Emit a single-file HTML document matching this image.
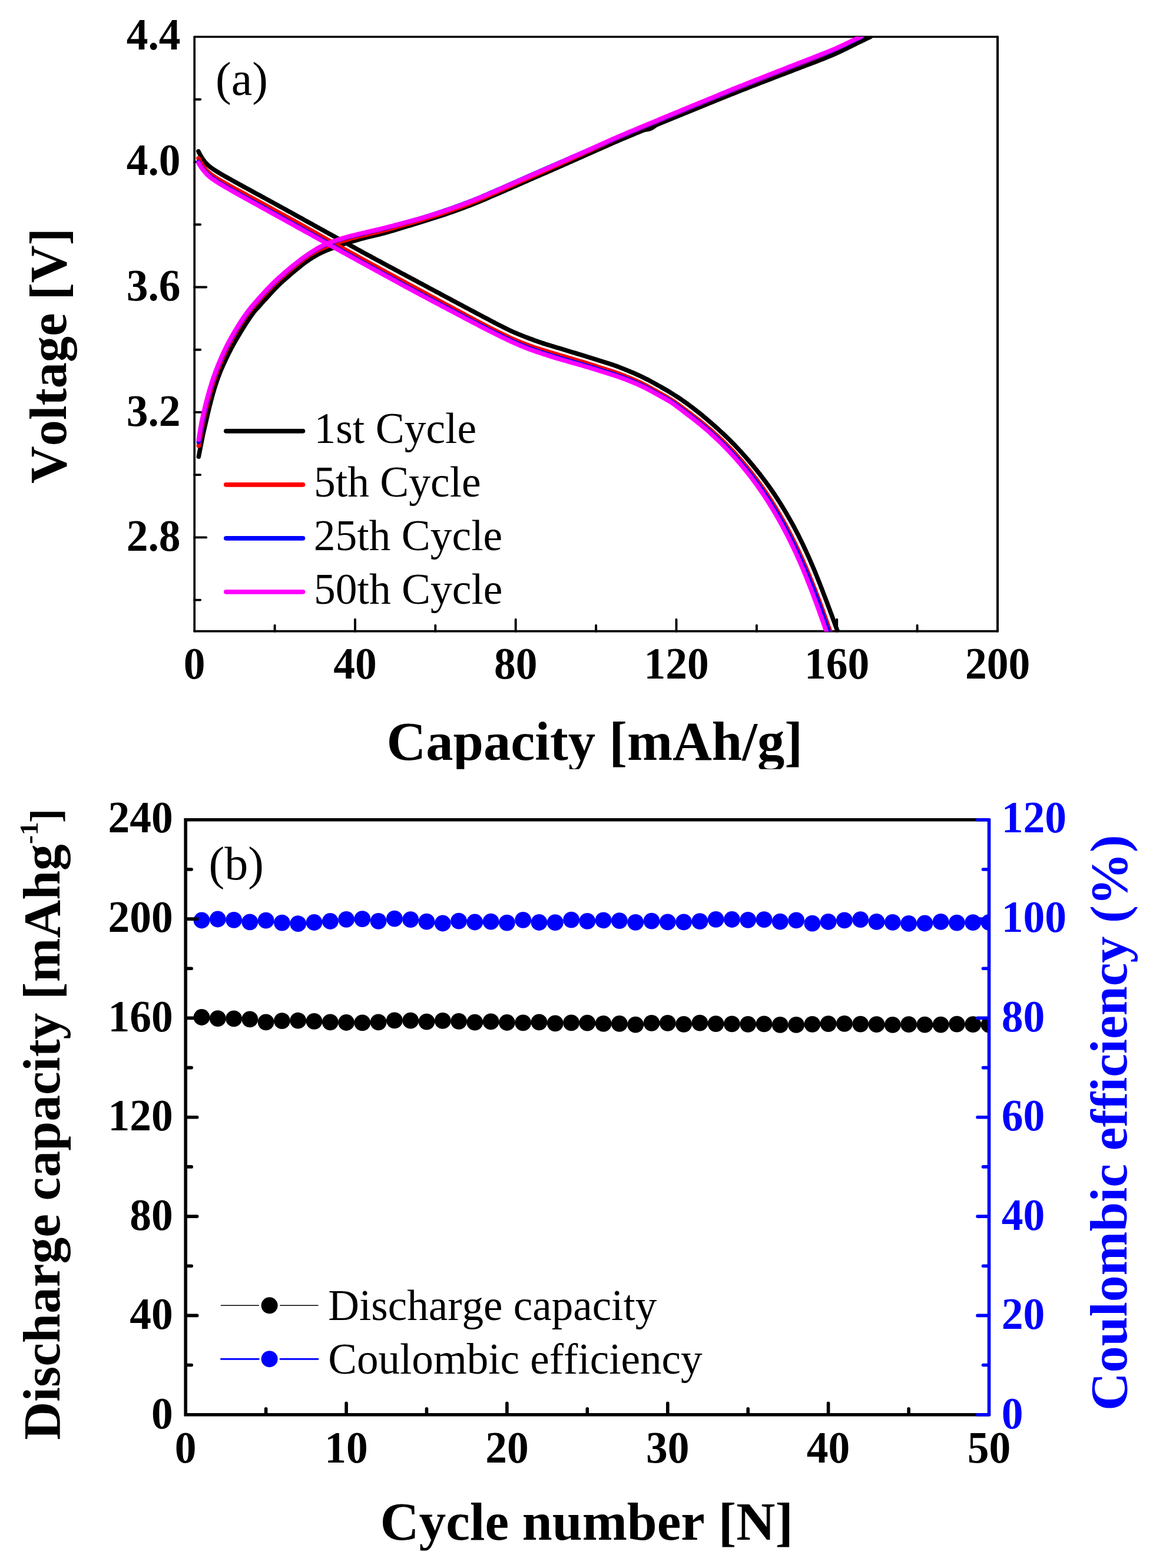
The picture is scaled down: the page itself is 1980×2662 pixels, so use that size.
<!DOCTYPE html>
<html lang="en"><head><meta charset="utf-8"><title>Charge-discharge profiles and cycling performance</title>
<style>html,body{margin:0;padding:0;background:#fff}body{width:1980px;height:2662px;overflow:hidden}svg{display:block}text{font-family:"Liberation Serif", serif;font-variant-ligatures:none;font-kerning:none}.b{font-weight:bold}.t{font-weight:bold;font-size:73.5px}</style></head><body>
<svg width="1980" height="2662" viewBox="0 0 1980 2662">
<defs><clipPath id="ca"><rect x="330.2" y="62.2" width="1363.8" height="1010.0"/></clipPath><clipPath id="cb"><rect x="315.2" y="1391.8" width="1364.3" height="1009.9"/></clipPath><clipPath id="cxa"><rect x="0" y="0" width="1980" height="1305.8"/></clipPath><clipPath id="cxb"><rect x="0" y="0" width="1980" height="2632.5"/></clipPath></defs>
<rect width="1980" height="2662" fill="#fff"/>
<g id="plot-a">
<g fill="none" stroke="#000" stroke-linecap="round">
<path stroke-width="3.4" d="M330.2,62.55H1694.0"/>
<path stroke-width="3.8" d="M330.2,1071.60H1694.0"/>
<path stroke-width="3.7" d="M330.2,62.6V1071.7"/>
<path stroke-width="4" d="M1694.0,62.6V1071.7"/>
<path stroke-width="3.9" d="M330.2,1018.6h10.0M330.2,912.4h20.0M330.2,806.1h10.0M330.2,699.9h20.0M330.2,593.7h10.0M330.2,487.5h20.0M330.2,381.3h10.0M330.2,275.0h20.0M330.2,168.8h10.0M466.6,1071.7v-10.0M603.0,1071.7v-20.0M739.3,1071.7v-10.0M875.7,1071.7v-20.0M1012.1,1071.7v-10.0M1148.5,1071.7v-20.0M1284.9,1071.7v-10.0M1421.2,1071.7v-20.0M1557.6,1071.7v-10.0"/>
</g>
<g clip-path="url(#ca)" fill="none" stroke-width="7.6" stroke-linecap="round" stroke-linejoin="round">
<path stroke="#000" d="M337.3,775.2 340.0,761.4 342.4,749.2 344.3,739.5 345.7,733.1 346.6,729.0 347.4,725.8 348.0,723.1 348.7,720.3 349.4,717.1 350.2,713.9 350.9,710.6 351.7,707.4 352.4,704.1 353.2,700.9 354.0,697.7 354.7,694.5 355.5,691.2 356.3,688.0 357.2,684.8 358.0,681.6 358.8,678.4 359.7,675.2 360.5,672.0 361.4,668.8 362.3,665.6 363.3,662.4 364.2,659.2 365.2,656.1 366.2,652.9 367.3,649.7 368.3,646.6 369.5,643.5 370.6,640.3 371.8,637.2 373.0,634.1 374.2,630.9 375.5,627.8 376.8,624.8 378.1,621.7 379.5,618.6 380.9,615.5 382.4,612.5 383.8,609.4 385.3,606.4 386.7,603.4 388.2,600.4 389.7,597.4 391.3,594.4 392.8,591.4 394.4,588.4 396.0,585.4 397.7,582.5 399.3,579.6 401.0,576.7 402.7,573.8 404.4,570.9 406.1,568.0 407.9,565.1 409.6,562.2 411.4,559.4 413.1,556.6 414.9,553.8 416.6,550.9 418.4,548.1 420.2,545.4 422.1,542.6 424.0,539.8 426.0,536.9 428.0,534.1 429.9,531.5 431.8,529.0 433.6,526.9 435.3,525.0 437.1,523.1 438.9,521.1 440.9,518.9 443.0,516.5 445.1,514.1 447.0,511.9 448.9,509.8 450.8,507.8 452.6,505.9 454.4,503.9 456.3,501.9 458.2,499.8 460.0,497.8 461.9,495.7 463.8,493.6 465.7,491.6 467.6,489.5 469.6,487.5 471.6,485.5 473.6,483.5 475.7,481.6 477.8,479.6 479.9,477.7 482.0,475.8 484.2,473.9 486.4,471.9 488.6,470.0 490.8,468.1 493.0,466.2 495.2,464.3 497.5,462.4 499.9,460.4 502.3,458.4 504.8,456.3 507.4,454.2 510.1,452.1 512.7,449.9 515.5,447.8 518.2,445.8 520.9,443.8 523.6,441.9 526.4,440.1 529.2,438.3 532.0,436.6 534.8,434.9 537.6,433.3 540.5,431.7 543.4,430.2 546.3,428.7 549.3,427.3 552.3,426.0 555.4,424.7 558.5,423.5 561.6,422.2 564.7,421.1 567.8,419.9 570.9,418.8 574.1,417.6 577.2,416.5 580.4,415.5 583.6,414.4 586.8,413.4 590.0,412.4 593.1,411.4 596.4,410.4 599.6,409.4 602.8,408.5 606.0,407.6 609.2,406.6 612.5,405.7 615.7,404.9 618.9,404.0 622.1,403.1 625.4,402.3 628.6,401.6 631.8,400.8 635.0,400.0 638.3,399.3 641.5,398.5 644.7,397.7 647.9,396.9 651.1,396.0 654.4,395.2 657.6,394.3 660.8,393.3 664.0,392.4 667.2,391.5 670.4,390.5 673.6,389.5 676.8,388.6 680.0,387.6 683.2,386.6 686.4,385.7 689.6,384.7 692.8,383.7 696.0,382.8 699.2,381.8 702.4,380.8 705.6,379.9 708.8,378.9 712.0,377.9 715.2,376.9 718.4,375.9 721.5,374.9 724.7,373.9 727.9,372.9 731.0,371.9 734.2,370.9 737.4,369.9 740.5,368.9 743.7,367.9 746.8,366.9 750.0,365.9 753.1,364.8 756.2,363.8 759.4,362.7 762.5,361.6 765.6,360.5 768.8,359.5 771.9,358.3 775.0,357.2 778.2,356.1 781.3,355.0 784.4,353.8 787.5,352.7 790.6,351.5 793.7,350.3 796.8,349.1 799.9,347.9 803.0,346.7 806.0,345.5 809.1,344.3 812.2,343.0 815.2,341.7 818.3,340.5 821.3,339.2 824.4,337.9 827.4,336.6 830.4,335.3 833.5,333.9 836.5,332.6 839.6,331.3 842.6,330.0 845.6,328.7 848.7,327.4 851.7,326.1 854.8,324.7 857.8,323.4 860.8,322.1 863.9,320.8 866.9,319.5 869.9,318.1 873.0,316.8 876.0,315.5 879.0,314.1 882.0,312.8 885.1,311.5 888.1,310.1 891.1,308.8 894.2,307.5 897.2,306.1 900.2,304.8 903.3,303.5 906.3,302.1 909.3,300.8 912.4,299.5 915.4,298.2 918.4,296.8 921.5,295.5 924.5,294.2 927.5,292.9 930.6,291.5 933.6,290.2 936.6,288.9 939.7,287.5 942.7,286.2 945.7,284.9 948.8,283.5 951.8,282.2 954.8,280.9 957.9,279.5 960.9,278.2 963.9,276.9 966.9,275.5 970.0,274.2 973.0,272.8 976.0,271.5 979.0,270.2 982.1,268.8 985.1,267.5 988.1,266.2 991.1,264.8 994.2,263.5 997.2,262.1 1000.2,260.8 1003.2,259.5 1006.3,258.1 1009.3,256.8 1012.3,255.4 1015.3,254.1 1018.3,252.7 1021.4,251.4 1024.4,250.0 1027.4,248.7 1030.4,247.4 1033.5,246.0 1036.5,244.7 1039.5,243.3 1042.5,242.0 1045.6,240.7 1048.6,239.4 1051.7,238.1 1054.7,236.8 1057.7,235.5 1060.8,234.2 1063.8,232.9 1066.9,231.7 1069.9,230.4 1073.0,229.1 1076.1,227.9 1079.1,226.6 1082.2,225.3 1085.2,224.1 1088.3,222.8 1091.4,221.6 1094.4,220.3 1097.5,219.0 1100.5,217.8 1103.6,216.5 1106.6,215.3 1109.7,214.0 1112.8,212.7 1115.8,211.5 1118.9,210.2 1121.9,209.0 1125.0,207.7 1128.0,206.5 1131.1,205.2 1134.2,204.0 1137.2,202.7 1140.3,201.5 1143.3,200.2 1146.4,199.0 1149.5,197.7 1152.5,196.5 1155.6,195.2 1158.6,194.0 1161.7,192.7 1164.8,191.5 1167.8,190.2 1170.9,189.0 1174.0,187.7 1177.0,186.5 1180.1,185.2 1183.1,184.0 1186.2,182.7 1189.3,181.5 1192.3,180.2 1195.4,179.0 1198.5,177.7 1201.5,176.5 1204.6,175.2 1207.7,174.0 1210.7,172.7 1213.8,171.5 1216.8,170.3 1219.9,169.0 1223.0,167.8 1226.0,166.5 1229.1,165.3 1232.2,164.0 1235.2,162.8 1238.3,161.6 1241.4,160.3 1244.4,159.1 1247.5,157.9 1250.6,156.7 1253.6,155.5 1256.7,154.2 1259.8,153.0 1262.9,151.8 1266.0,150.6 1269.0,149.4 1272.1,148.2 1275.2,147.0 1278.3,145.8 1281.4,144.6 1284.4,143.4 1287.5,142.2 1290.6,141.0 1293.7,139.8 1296.8,138.6 1299.9,137.5 1302.9,136.3 1306.0,135.1 1309.1,133.9 1312.2,132.7 1315.3,131.5 1318.4,130.3 1321.4,129.1 1324.5,128.0 1327.6,126.8 1330.7,125.6 1333.8,124.4 1336.9,123.2 1339.9,122.1 1343.0,120.9 1346.1,119.7 1349.2,118.5 1352.3,117.3 1355.4,116.2 1358.5,115.0 1361.6,113.8 1364.6,112.6 1367.7,111.5 1370.8,110.3 1373.9,109.1 1377.0,108.0 1380.1,106.8 1383.2,105.6 1386.2,104.4 1389.3,103.2 1392.4,102.0 1395.4,100.8 1398.4,99.6 1401.3,98.4 1404.3,97.2 1407.3,96.0 1410.4,94.7 1413.5,93.4 1416.7,92.0 1420.0,90.5 1423.4,89.0 1426.8,87.5 1430.2,85.9 1433.6,84.2 1437.1,82.5 1440.8,80.7 1444.5,78.8 1448.4,76.8 1452.5,74.8 1456.8,72.7 1461.4,70.5 1466.4,68.1 1472.0,65.4 1478.0,62.5"/>
<path stroke="#000" d="M336.9,256.9 338.6,260.3 340.4,263.6 342.3,266.8 344.3,269.9 346.4,272.8 348.5,275.5 350.8,278.0 353.2,280.3 355.7,282.5 358.2,284.5 360.9,286.4 363.7,288.3 366.5,290.0 369.3,291.8 372.1,293.5 375.0,295.2 377.8,296.9 380.7,298.5 383.6,300.2 386.5,301.8 389.4,303.4 392.3,305.0 395.2,306.7 398.1,308.3 401.0,309.9 403.9,311.5 406.8,313.1 409.8,314.7 412.7,316.3 415.6,317.9 418.5,319.5 421.5,321.1 424.4,322.7 427.3,324.3 430.2,325.9 433.1,327.5 436.1,329.1 439.0,330.6 441.9,332.2 444.8,333.8 447.7,335.4 450.7,337.0 453.6,338.6 456.5,340.2 459.4,341.8 462.3,343.4 465.3,345.0 468.2,346.6 471.1,348.2 474.0,349.8 476.9,351.4 479.9,353.0 482.8,354.6 485.7,356.2 488.6,357.8 491.5,359.4 494.5,361.0 497.4,362.7 500.3,364.3 503.2,365.9 506.1,367.5 509.1,369.1 512.0,370.7 514.9,372.3 517.8,374.0 520.7,375.6 523.7,377.2 526.6,378.8 529.5,380.4 532.4,382.0 535.3,383.7 538.3,385.3 541.2,386.9 544.1,388.5 547.0,390.1 550.0,391.7 552.9,393.4 555.8,395.0 558.7,396.6 561.6,398.2 564.6,399.8 567.5,401.4 570.4,403.1 573.3,404.7 576.3,406.3 579.2,407.9 582.1,409.5 585.0,411.2 588.0,412.8 590.9,414.4 593.8,416.0 596.7,417.6 599.7,419.2 602.6,420.8 605.5,422.5 608.4,424.1 611.4,425.7 614.3,427.3 617.2,428.9 620.1,430.5 623.1,432.1 626.0,433.7 628.9,435.2 631.8,436.8 634.8,438.4 637.7,440.0 640.6,441.6 643.6,443.2 646.5,444.7 649.4,446.3 652.3,447.9 655.3,449.5 658.2,451.0 661.1,452.6 664.1,454.2 667.0,455.7 669.9,457.3 672.8,458.9 675.8,460.4 678.7,462.0 681.6,463.6 684.5,465.1 687.5,466.7 690.4,468.3 693.3,469.8 696.3,471.4 699.2,473.0 702.1,474.5 705.1,476.1 708.0,477.7 711.0,479.3 713.9,480.9 716.9,482.4 719.8,484.0 722.8,485.6 725.7,487.2 728.7,488.8 731.6,490.3 734.6,491.9 737.5,493.5 740.5,495.1 743.4,496.7 746.4,498.2 749.3,499.8 752.3,501.4 755.2,503.0 758.2,504.6 761.1,506.1 764.1,507.7 767.0,509.3 770.0,510.9 772.9,512.4 775.9,514.0 778.8,515.6 781.8,517.2 784.7,518.7 787.7,520.3 790.6,521.9 793.6,523.4 796.6,525.0 799.5,526.6 802.5,528.1 805.4,529.7 808.4,531.3 811.3,532.9 814.3,534.4 817.3,536.0 820.2,537.6 823.2,539.1 826.2,540.7 829.1,542.2 832.1,543.8 835.1,545.4 838.1,547.0 841.1,548.5 844.1,550.1 847.1,551.6 850.1,553.1 853.1,554.6 856.1,556.1 859.1,557.6 862.1,559.1 865.1,560.6 868.1,562.0 871.2,563.4 874.2,564.7 877.3,566.0 880.3,567.3 883.4,568.5 886.5,569.8 889.6,571.0 892.7,572.2 895.8,573.4 898.9,574.6 902.0,575.7 905.2,576.9 908.3,578.1 911.5,579.2 914.7,580.3 917.8,581.4 921.0,582.5 924.2,583.5 927.3,584.5 930.5,585.5 933.7,586.4 936.9,587.4 940.1,588.3 943.3,589.3 946.5,590.3 949.7,591.2 952.9,592.2 956.1,593.2 959.3,594.2 962.5,595.2 965.7,596.1 968.9,597.1 972.1,598.1 975.3,599.0 978.6,600.0 981.8,601.0 985.0,601.9 988.2,602.9 991.4,603.9 994.6,604.9 997.8,605.9 1001.0,606.8 1004.2,607.8 1007.4,608.8 1010.5,609.8 1013.7,610.8 1016.9,611.8 1020.1,612.8 1023.3,613.8 1026.5,614.8 1029.7,615.8 1032.9,616.8 1036.1,617.9 1039.3,618.9 1042.4,620.0 1045.6,621.1 1048.7,622.3 1051.9,623.5 1055.0,624.7 1058.2,626.0 1061.3,627.2 1064.4,628.5 1067.4,629.7 1070.5,631.0 1073.5,632.3 1076.6,633.6 1079.6,634.9 1082.7,636.3 1085.8,637.7 1088.9,639.2 1092.1,640.7 1095.4,642.3 1098.7,644.0 1102.0,645.7 1105.3,647.5 1108.7,649.3 1112.1,651.2 1115.5,653.1 1118.9,655.0 1122.3,656.9 1125.7,658.9 1129.2,660.9 1132.7,662.9 1136.3,665.0 1139.8,667.2 1143.3,669.4 1146.8,671.6 1150.2,673.8 1153.6,676.0 1157.0,678.3 1160.3,680.7 1163.7,683.0 1167.0,685.4 1170.2,687.8 1173.4,690.2 1176.6,692.6 1179.7,695.0 1182.8,697.4 1185.9,699.8 1189.0,702.3 1192.0,704.7 1194.9,707.2 1197.9,709.6 1200.8,712.1 1203.7,714.6 1206.5,717.0 1209.3,719.5 1212.1,721.9 1214.8,724.3 1217.6,726.8 1220.3,729.2 1222.9,731.7 1225.5,734.1 1228.2,736.5 1230.7,739.0 1233.3,741.4 1235.8,743.9 1238.3,746.3 1240.8,748.8 1243.2,751.3 1245.7,753.7 1248.1,756.2 1250.4,758.7 1252.8,761.2 1255.1,763.7 1257.4,766.1 1259.7,768.6 1261.9,771.2 1264.2,773.7 1266.4,776.2 1268.6,778.7 1270.8,781.3 1273.0,783.8 1275.1,786.4 1277.3,788.9 1279.4,791.5 1281.5,794.1 1283.6,796.7 1285.7,799.3 1287.8,801.9 1289.8,804.5 1291.9,807.1 1293.9,809.7 1295.9,812.4 1297.9,815.0 1299.9,817.7 1301.9,820.4 1303.8,823.1 1305.8,825.8 1307.7,828.5 1309.6,831.2 1311.5,834.0 1313.4,836.7 1315.3,839.5 1317.1,842.3 1319.0,845.1 1320.8,847.9 1322.6,850.7 1324.4,853.5 1326.1,856.3 1327.9,859.2 1329.6,862.0 1331.4,864.9 1333.1,867.7 1334.8,870.6 1336.4,873.5 1338.1,876.4 1339.8,879.3 1341.4,882.2 1343.1,885.1 1344.7,888.0 1346.3,890.9 1347.9,893.9 1349.5,896.8 1351.0,899.8 1352.6,902.7 1354.1,905.7 1355.6,908.6 1357.1,911.6 1358.6,914.6 1360.1,917.6 1361.5,920.6 1363.0,923.6 1364.4,926.6 1365.8,929.6 1367.2,932.6 1368.6,935.6 1370.0,938.7 1371.4,941.7 1372.7,944.7 1374.1,947.8 1375.4,950.8 1376.8,953.9 1378.1,957.0 1379.4,960.0 1380.7,963.1 1382.0,966.1 1383.3,969.2 1384.6,972.3 1385.8,975.4 1387.1,978.5 1388.3,981.6 1389.5,984.7 1390.8,987.8 1392.0,990.9 1393.2,994.0 1394.4,997.1 1395.6,1000.2 1396.8,1003.4 1398.0,1006.5 1399.2,1009.6 1400.4,1012.7 1401.6,1015.8 1402.8,1019.0 1404.0,1022.1 1405.2,1025.2 1406.3,1028.4 1407.5,1031.5 1408.7,1034.6 1409.8,1037.8 1411.0,1040.9 1412.2,1044.0 1413.3,1047.2 1414.5,1050.3 1415.6,1053.5 1416.8,1056.6 1417.9,1059.8 1419.1,1062.9 1420.2,1066.1 1421.4,1069.2 1422.5,1072.4 1423.7,1075.5 1424.9,1078.7 1426.0,1081.8 1427.2,1085.0"/>
<path fill="#000" stroke="none" d="M1092.5,221 L1093.9,224.3 1096.3,223.9 1103.6,222.7 1109.4,220.3 1113.3,217.4 1117.1,214.6 1117.1,210.8Z"/>
<path stroke="#f00" d="M337.3,756.7 338.6,749.5 339.7,743.0 340.6,737.6 341.4,733.3 342.0,729.8 342.6,726.6 343.2,723.5 343.8,720.4 344.5,717.1 345.2,713.9 345.9,710.6 346.6,707.4 347.3,704.1 348.0,700.9 348.8,697.7 349.5,694.5 350.3,691.2 351.1,688.0 351.9,684.8 352.7,681.6 353.6,678.4 354.4,675.2 355.3,672.0 356.2,668.8 357.1,665.6 358.0,662.4 359.0,659.2 359.9,656.1 360.9,652.9 361.9,649.7 363.0,646.6 364.0,643.5 365.1,640.3 366.2,637.2 367.3,634.1 368.4,630.9 369.6,627.8 370.8,624.8 372.0,621.7 373.3,618.6 374.6,615.5 375.9,612.5 377.2,609.4 378.5,606.4 379.9,603.4 381.3,600.4 382.7,597.4 384.1,594.4 385.5,591.4 387.0,588.4 388.5,585.4 390.1,582.5 391.6,579.6 393.2,576.7 394.8,573.8 396.4,570.9 398.1,568.0 399.7,565.1 401.4,562.2 403.1,559.4 404.8,556.6 406.5,553.8 408.3,550.9 410.1,548.1 411.9,545.4 413.7,542.6 415.6,539.8 417.5,537.1 419.4,534.3 421.4,531.7 423.3,529.1 425.3,526.5 427.3,524.1 429.3,521.7 431.4,519.3 433.5,516.8 435.7,514.4 437.9,511.9 440.0,509.5 442.2,507.2 444.3,504.8 446.4,502.5 448.6,500.2 450.7,497.9 452.9,495.6 455.1,493.3 457.3,491.0 459.5,488.7 461.7,486.4 463.9,484.2 466.2,481.9 468.4,479.7 470.7,477.6 473.1,475.4 475.4,473.3 477.8,471.1 480.2,469.0 482.6,466.9 485.0,464.8 487.4,462.8 489.8,460.7 492.3,458.7 494.8,456.6 497.3,454.6 499.8,452.6 502.3,450.5 504.9,448.5 507.5,446.4 510.2,444.3 512.8,442.2 515.5,440.2 518.2,438.2 520.9,436.3 523.6,434.4 526.4,432.6 529.2,430.9 532.0,429.2 534.8,427.6 537.6,426.1 540.5,424.6 543.4,423.3 546.3,422.0 549.3,420.7 552.3,419.4 555.4,418.2 558.5,417.0 561.6,415.8 564.7,414.7 567.8,413.6 570.9,412.5 574.1,411.4 577.2,410.4 580.4,409.4 583.6,408.4 586.8,407.5 590.0,406.5 593.1,405.6 596.4,404.8 599.6,403.9 602.8,403.0 606.0,402.2 609.2,401.4 612.5,400.6 615.7,399.8 618.9,399.0 622.1,398.2 625.4,397.4 628.6,396.7 631.8,395.9 635.0,395.2 638.3,394.4 641.5,393.7 644.7,392.9 647.9,392.1 651.1,391.3 654.4,390.5 657.6,389.6 660.8,388.8 664.0,387.9 667.2,387.0 670.4,386.1 673.6,385.2 676.8,384.3 680.0,383.4 683.2,382.5 686.4,381.6 689.6,380.7 692.8,379.8 696.0,378.9 699.2,378.0 702.4,377.1 705.6,376.1 708.8,375.2 712.0,374.3 715.2,373.3 718.4,372.4 721.5,371.4 724.7,370.4 727.9,369.5 731.0,368.5 734.2,367.5 737.4,366.4 740.5,365.4 743.7,364.4 746.8,363.4 750.0,362.3 753.1,361.3 756.2,360.2 759.4,359.1 762.5,358.0 765.6,357.0 768.8,355.9 771.9,354.8 775.0,353.6 778.2,352.5 781.3,351.4 784.4,350.2 787.5,349.1 790.6,347.9 793.7,346.7 796.8,345.6 799.9,344.4 803.0,343.1 806.0,341.9 809.1,340.6 812.2,339.4 815.2,338.1 818.3,336.8 821.3,335.5 824.4,334.2 827.4,332.9 830.4,331.5 833.5,330.2 836.5,328.9 839.6,327.5 842.6,326.2 845.6,324.9 848.7,323.5 851.7,322.2 854.8,320.9 857.8,319.5 860.8,318.2 863.9,316.9 866.9,315.5 869.9,314.2 873.0,312.8 876.0,311.5 879.0,310.1 882.0,308.8 885.1,307.4 888.1,306.1 891.1,304.7 894.2,303.4 897.2,302.0 900.2,300.7 903.3,299.4 906.3,298.0 909.3,296.7 912.4,295.3 915.4,294.0 918.4,292.7 921.5,291.3 924.5,290.0 927.5,288.6 930.6,287.3 933.6,285.9 936.6,284.6 939.7,283.3 942.7,281.9 945.7,280.6 948.8,279.2 951.8,277.8 954.8,276.5 957.9,275.1 960.9,273.8 963.9,272.4 966.9,271.1 970.0,269.7 973.0,268.3 976.0,267.0 979.0,265.6 982.1,264.3 985.1,262.9 988.1,261.6 991.1,260.2 994.2,258.8 997.2,257.5 1000.2,256.1 1003.2,254.8 1006.3,253.4 1009.3,252.0 1012.3,250.7 1015.3,249.3 1018.3,247.9 1021.4,246.5 1024.4,245.2 1027.4,243.8 1030.4,242.4 1033.5,241.1 1036.5,239.7 1039.5,238.4 1042.5,237.0 1045.6,235.7 1048.6,234.4 1051.7,233.1 1054.7,231.7 1057.7,230.4 1060.8,229.1 1063.8,227.8 1066.9,226.6 1069.9,225.3 1073.0,224.0 1076.1,222.7 1079.1,221.4 1082.2,220.2 1085.2,218.9 1088.3,217.6 1091.4,216.3 1094.4,215.1 1097.5,213.8 1100.5,212.5 1103.6,211.3 1106.6,210.0 1109.7,208.7 1112.8,207.4 1115.8,206.2 1118.9,204.9 1121.9,203.6 1125.0,202.4 1128.0,201.1 1131.1,199.8 1134.2,198.6 1137.2,197.3 1140.3,196.0 1143.3,194.8 1146.4,193.5 1149.5,192.2 1152.5,191.0 1155.6,189.7 1158.6,188.5 1161.7,187.2 1164.8,185.9 1167.8,184.7 1170.9,183.4 1174.0,182.1 1177.0,180.9 1180.1,179.6 1183.1,178.3 1186.2,177.1 1189.3,175.8 1192.3,174.5 1195.4,173.3 1198.5,172.0 1201.5,170.8 1204.6,169.5 1207.7,168.3 1210.7,167.0 1213.8,165.7 1216.8,164.5 1219.9,163.2 1223.0,162.0 1226.0,160.7 1229.1,159.5 1232.2,158.2 1235.2,157.0 1238.3,155.7 1241.4,154.5 1244.4,153.2 1247.5,152.0 1250.6,150.7 1253.6,149.5 1256.7,148.3 1259.8,147.1 1262.9,145.8 1266.0,144.6 1269.0,143.4 1272.1,142.2 1275.2,140.9 1278.3,139.7 1281.4,138.5 1284.4,137.3 1287.5,136.1 1290.6,134.9 1293.7,133.6 1296.8,132.4 1299.9,131.2 1302.9,130.0 1306.0,128.8 1309.1,127.6 1312.2,126.4 1315.3,125.2 1318.4,124.0 1321.4,122.7 1324.5,121.5 1327.6,120.3 1330.7,119.1 1333.8,117.9 1336.9,116.7 1339.9,115.5 1343.0,114.3 1346.1,113.1 1349.2,111.9 1352.3,110.7 1355.4,109.5 1358.5,108.3 1361.6,107.0 1364.6,105.8 1367.7,104.6 1370.8,103.4 1373.9,102.2 1377.0,100.9 1380.1,99.7 1383.2,98.5 1386.2,97.2 1389.3,96.0 1392.4,94.7 1395.5,93.4 1398.5,92.2 1401.6,90.9 1404.7,89.6 1407.7,88.3 1410.8,87.0 1413.9,85.6 1416.9,84.3 1420.0,82.9 1423.1,81.6 1426.1,80.1 1429.2,78.7 1432.2,77.3 1435.3,75.8 1438.3,74.3 1441.4,72.8 1444.5,71.3 1447.6,69.8 1450.7,68.3 1453.8,66.8 1457.0,65.3 1460.1,63.8 1463.3,62.2"/>
<path stroke="#f00" d="M337.0,268.7 338.6,272.0 340.4,275.2 342.3,278.2 344.3,281.2 346.4,284.0 348.5,286.7 350.8,289.2 353.2,291.6 355.7,293.8 358.2,295.9 360.9,297.9 363.7,299.7 366.5,301.6 369.3,303.4 372.1,305.1 375.0,306.8 377.8,308.5 380.7,310.1 383.6,311.8 386.5,313.4 389.4,315.0 392.3,316.6 395.2,318.2 398.1,319.9 401.0,321.5 403.9,323.0 406.8,324.6 409.8,326.2 412.7,327.8 415.6,329.4 418.5,330.9 421.5,332.5 424.4,334.1 427.3,335.7 430.2,337.3 433.1,338.9 436.1,340.5 439.0,342.0 441.9,343.6 444.8,345.2 447.7,346.8 450.7,348.4 453.6,350.0 456.5,351.6 459.4,353.2 462.3,354.8 465.3,356.4 468.2,358.0 471.1,359.6 474.0,361.2 476.9,362.8 479.9,364.3 482.8,365.9 485.7,367.5 488.6,369.1 491.5,370.7 494.5,372.3 497.4,373.9 500.3,375.5 503.2,377.2 506.1,378.8 509.1,380.4 512.0,382.1 514.9,383.7 517.8,385.3 520.7,387.0 523.7,388.6 526.6,390.3 529.5,391.9 532.4,393.6 535.3,395.2 538.3,396.9 541.2,398.5 544.1,400.2 547.0,401.8 550.0,403.5 552.9,405.1 555.8,406.8 558.7,408.4 561.6,410.1 564.6,411.7 567.5,413.3 570.4,415.0 573.3,416.6 576.3,418.2 579.2,419.9 582.1,421.5 585.0,423.2 588.0,424.8 590.9,426.4 593.8,428.1 596.7,429.7 599.7,431.3 602.6,432.9 605.5,434.6 608.4,436.2 611.4,437.8 614.3,439.4 617.2,441.0 620.1,442.6 623.1,444.2 626.0,445.8 628.9,447.4 631.8,449.0 634.8,450.6 637.7,452.2 640.6,453.8 643.6,455.4 646.5,457.0 649.4,458.6 652.3,460.2 655.3,461.8 658.2,463.4 661.1,465.0 664.1,466.6 667.0,468.1 669.9,469.7 672.8,471.3 675.8,472.9 678.7,474.5 681.6,476.1 684.5,477.6 687.5,479.2 690.4,480.8 693.3,482.4 696.3,483.9 699.2,485.5 702.1,487.1 705.1,488.7 708.0,490.3 711.0,491.9 713.9,493.4 716.9,495.0 719.8,496.6 722.8,498.2 725.7,499.8 728.7,501.4 731.6,503.0 734.6,504.6 737.5,506.2 740.5,507.8 743.4,509.4 746.4,511.0 749.3,512.6 752.3,514.2 755.2,515.8 758.2,517.3 761.1,518.9 764.1,520.5 767.0,522.1 770.0,523.7 772.9,525.3 775.9,526.8 778.8,528.4 781.8,530.0 784.7,531.6 787.7,533.2 790.6,534.8 793.6,536.4 796.6,538.0 799.5,539.5 802.5,541.1 805.4,542.7 808.4,544.3 811.3,545.8 814.3,547.4 817.3,549.0 820.2,550.5 823.2,552.0 826.2,553.6 829.1,555.1 832.1,556.7 835.1,558.2 838.1,559.7 841.1,561.2 844.1,562.7 847.1,564.2 850.1,565.7 853.1,567.1 856.1,568.6 859.1,570.0 862.1,571.5 865.1,572.9 868.1,574.3 871.2,575.6 874.2,576.9 877.3,578.2 880.3,579.5 883.4,580.8 886.5,582.0 889.6,583.3 892.7,584.5 895.8,585.6 898.9,586.8 902.0,587.9 905.2,589.0 908.3,590.1 911.5,591.1 914.7,592.1 917.8,593.2 921.0,594.2 924.2,595.2 927.3,596.2 930.5,597.1 933.7,598.1 936.9,599.0 940.1,600.0 943.3,600.9 946.5,601.9 949.7,602.9 952.9,603.8 956.1,604.7 959.3,605.7 962.5,606.6 965.7,607.6 968.9,608.5 972.1,609.5 975.3,610.4 978.6,611.4 981.8,612.3 985.0,613.3 988.2,614.2 991.4,615.2 994.6,616.2 997.8,617.2 1001.0,618.2 1004.2,619.2 1007.4,620.2 1010.5,621.2 1013.7,622.3 1016.9,623.3 1020.1,624.3 1023.3,625.3 1026.5,626.3 1029.7,627.3 1032.9,628.3 1036.1,629.3 1039.3,630.4 1042.4,631.5 1045.6,632.6 1048.7,633.7 1051.9,634.8 1055.0,636.0 1058.2,637.2 1061.3,638.4 1064.4,639.7 1067.5,640.9 1070.6,642.2 1073.7,643.5 1076.7,644.9 1079.8,646.2 1082.9,647.6 1085.9,649.0 1089.0,650.5 1092.1,652.0 1095.1,653.6 1098.2,655.2 1101.3,656.8 1104.3,658.5 1107.4,660.2 1110.4,662.0 1113.5,663.7 1116.5,665.4 1119.6,667.2 1122.6,668.9 1125.7,670.6 1128.8,672.3 1131.9,674.1 1134.9,675.9 1138.0,677.7 1141.0,679.6 1143.9,681.5 1146.8,683.5 1149.7,685.6 1152.6,687.6 1155.5,689.7 1158.3,691.8 1161.2,694.0 1164.0,696.1 1166.8,698.2 1169.6,700.3 1172.4,702.4 1175.2,704.5 1178.0,706.7 1180.8,708.8 1183.6,711.0 1186.3,713.1 1189.1,715.3 1191.8,717.5 1194.5,719.7 1197.2,721.9 1199.8,724.2 1202.5,726.4 1205.1,728.7 1207.7,730.9 1210.3,733.2 1212.9,735.5 1215.5,737.8 1218.0,740.1 1220.5,742.4 1223.0,744.8 1225.5,747.1 1228.0,749.5 1230.4,751.8 1232.9,754.2 1235.3,756.6 1237.7,759.0 1240.1,761.5 1242.4,763.9 1244.8,766.3 1247.1,768.8 1249.4,771.3 1251.6,773.7 1253.9,776.2 1256.1,778.7 1258.3,781.3 1260.5,783.8 1262.7,786.3 1264.8,788.9 1266.9,791.4 1269.0,794.0 1271.1,796.6 1273.2,799.2 1275.3,801.8 1277.3,804.4 1279.4,807.1 1281.4,809.7 1283.4,812.3 1285.4,815.0 1287.4,817.7 1289.3,820.4 1291.3,823.1 1293.2,825.8 1295.1,828.5 1297.0,831.2 1298.9,834.0 1300.8,836.7 1302.7,839.5 1304.5,842.3 1306.3,845.1 1308.2,847.9 1310.0,850.7 1311.7,853.5 1313.5,856.3 1315.3,859.2 1317.0,862.0 1318.7,864.9 1320.4,867.7 1322.1,870.6 1323.8,873.5 1325.5,876.4 1327.1,879.3 1328.8,882.2 1330.4,885.1 1332.0,888.0 1333.6,890.9 1335.2,893.9 1336.8,896.8 1338.3,899.8 1339.9,902.7 1341.4,905.7 1342.9,908.6 1344.5,911.6 1345.9,914.6 1347.4,917.6 1348.9,920.6 1350.4,923.6 1351.8,926.6 1353.2,929.6 1354.7,932.6 1356.1,935.6 1357.5,938.7 1358.9,941.7 1360.2,944.7 1361.6,947.8 1362.9,950.8 1364.3,953.9 1365.6,957.0 1366.9,960.0 1368.3,963.1 1369.6,966.1 1370.9,969.2 1372.2,972.3 1373.5,975.4 1374.7,978.5 1376.0,981.6 1377.3,984.7 1378.5,987.8 1379.8,990.9 1381.0,994.0 1382.3,997.1 1383.5,1000.2 1384.7,1003.4 1385.9,1006.5 1387.1,1009.6 1388.3,1012.7 1389.5,1015.8 1390.7,1019.0 1391.9,1022.1 1393.0,1025.2 1394.2,1028.4 1395.3,1031.5 1396.5,1034.6 1397.6,1037.8 1398.7,1040.9 1399.8,1044.0 1400.9,1047.2 1402.1,1050.3 1403.2,1053.5 1404.3,1056.6 1405.4,1059.8 1406.5,1062.9 1407.6,1066.1 1408.7,1069.2 1409.9,1072.4 1411.0,1075.5 1412.1,1078.7 1413.2,1081.8 1414.3,1085.0"/>
<path stroke="#00f" d="M337.3,750.1 338.1,745.5 338.8,741.1 339.6,737.0 340.2,733.4 340.8,730.0 341.4,726.8 342.0,723.6 342.6,720.4 343.3,717.1 343.9,713.9 344.6,710.6 345.3,707.4 346.0,704.1 346.7,700.9 347.4,697.7 348.1,694.5 348.9,691.2 349.7,688.0 350.4,684.8 351.2,681.6 352.0,678.4 352.9,675.2 353.7,672.0 354.6,668.8 355.4,665.6 356.3,662.4 357.3,659.2 358.2,656.1 359.2,652.9 360.2,649.7 361.2,646.6 362.3,643.5 363.3,640.3 364.4,637.2 365.6,634.1 366.7,630.9 367.9,627.8 369.1,624.8 370.3,621.7 371.5,618.6 372.8,615.5 374.1,612.5 375.5,609.4 376.8,606.4 378.1,603.4 379.5,600.4 380.9,597.4 382.3,594.4 383.8,591.4 385.2,588.4 386.8,585.4 388.3,582.5 389.9,579.6 391.5,576.7 393.1,573.8 394.7,570.9 396.4,568.0 398.0,565.1 399.7,562.2 401.4,559.4 403.2,556.6 404.9,553.8 406.6,550.9 408.4,548.1 410.2,545.4 412.0,542.6 413.8,539.9 415.7,537.1 417.5,534.4 419.5,531.7 421.4,529.1 423.4,526.5 425.4,523.9 427.5,521.4 429.6,518.9 431.7,516.3 433.9,513.9 436.0,511.4 438.2,508.9 440.4,506.5 442.6,504.0 444.8,501.6 447.0,499.2 449.2,496.8 451.5,494.4 453.7,492.1 456.0,489.7 458.3,487.3 460.6,485.0 462.9,482.7 465.2,480.4 467.6,478.1 469.9,475.9 472.3,473.6 474.7,471.4 477.2,469.2 479.6,467.0 482.1,464.8 484.5,462.6 487.0,460.5 489.5,458.3 492.1,456.2 494.6,454.1 497.2,452.0 499.7,449.9 502.3,447.9 504.9,445.8 507.6,443.8 510.2,441.8 512.8,439.8 515.5,437.8 518.2,435.9 520.9,434.0 523.6,432.1 526.4,430.2 529.2,428.4 532.0,426.7 534.8,424.9 537.6,423.3 540.5,421.6 543.4,420.0 546.3,418.5 549.3,417.1 552.3,415.7 555.4,414.5 558.5,413.2 561.6,412.1 564.7,410.9 567.8,409.8 570.9,408.7 574.1,407.7 577.2,406.7 580.4,405.7 583.6,404.7 586.8,403.8 590.0,402.9 593.1,402.0 596.4,401.2 599.6,400.3 602.8,399.5 606.0,398.8 609.2,398.0 612.5,397.2 615.7,396.5 618.9,395.7 622.1,394.9 625.4,394.1 628.6,393.4 631.8,392.6 635.0,391.9 638.3,391.1 641.5,390.4 644.7,389.6 647.9,388.8 651.1,388.0 654.4,387.2 657.6,386.4 660.8,385.5 664.0,384.7 667.2,383.8 670.4,382.9 673.6,382.0 676.8,381.2 680.0,380.3 683.2,379.4 686.4,378.5 689.6,377.6 692.8,376.8 696.0,375.9 699.2,375.0 702.4,374.1 705.6,373.2 708.8,372.3 712.0,371.4 715.2,370.4 718.4,369.5 721.5,368.5 724.7,367.6 727.9,366.6 731.0,365.6 734.2,364.6 737.4,363.5 740.5,362.5 743.7,361.5 746.8,360.4 750.0,359.4 753.1,358.3 756.2,357.2 759.4,356.2 762.5,355.1 765.6,354.0 768.8,352.9 771.9,351.8 775.0,350.7 778.2,349.5 781.3,348.4 784.4,347.3 787.5,346.1 790.6,344.9 793.7,343.8 796.8,342.6 799.9,341.4 803.0,340.2 806.0,338.9 809.1,337.7 812.2,336.4 815.2,335.2 818.3,333.9 821.3,332.6 824.4,331.3 827.4,330.0 830.4,328.6 833.5,327.3 836.5,326.0 839.6,324.7 842.6,323.3 845.6,322.0 848.7,320.7 851.7,319.4 854.8,318.1 857.8,316.7 860.8,315.4 863.9,314.1 866.9,312.7 869.9,311.4 873.0,310.1 876.0,308.7 879.0,307.4 882.0,306.0 885.1,304.7 888.1,303.4 891.1,302.0 894.2,300.7 897.2,299.3 900.2,298.0 903.3,296.7 906.3,295.4 909.3,294.0 912.4,292.7 915.4,291.4 918.4,290.1 921.5,288.8 924.5,287.4 927.5,286.1 930.6,284.8 933.6,283.5 936.6,282.1 939.7,280.8 942.7,279.5 945.7,278.2 948.8,276.8 951.8,275.5 954.8,274.2 957.9,272.9 960.9,271.6 963.9,270.3 966.9,268.9 970.0,267.6 973.0,266.3 976.0,265.0 979.0,263.7 982.1,262.4 985.1,261.1 988.1,259.8 991.1,258.5 994.2,257.2 997.2,255.8 1000.2,254.5 1003.2,253.2 1006.3,251.9 1009.3,250.6 1012.3,249.3 1015.3,248.0 1018.3,246.7 1021.4,245.4 1024.4,244.1 1027.4,242.8 1030.4,241.5 1033.5,240.2 1036.5,238.9 1039.5,237.5 1042.5,236.2 1045.6,234.9 1048.6,233.6 1051.7,232.3 1054.7,231.0 1057.7,229.7 1060.8,228.4 1063.8,227.1 1066.9,225.8 1069.9,224.6 1073.0,223.3 1076.1,222.0 1079.1,220.7 1082.2,219.5 1085.2,218.2 1088.3,216.9 1091.4,215.6 1094.4,214.4 1097.5,213.1 1100.5,211.8 1103.6,210.6 1106.6,209.3 1109.7,208.0 1112.8,206.7 1115.8,205.5 1118.9,204.2 1121.9,202.9 1125.0,201.7 1128.0,200.4 1131.1,199.1 1134.2,197.8 1137.2,196.6 1140.3,195.3 1143.3,194.0 1146.4,192.8 1149.5,191.5 1152.5,190.3 1155.6,189.0 1158.6,187.7 1161.7,186.5 1164.8,185.2 1167.8,183.9 1170.9,182.7 1174.0,181.4 1177.0,180.1 1180.1,178.9 1183.1,177.6 1186.2,176.3 1189.3,175.1 1192.3,173.8 1195.4,172.5 1198.5,171.3 1201.5,170.0 1204.6,168.8 1207.7,167.5 1210.7,166.2 1213.8,165.0 1216.8,163.7 1219.9,162.5 1223.0,161.2 1226.0,159.9 1229.1,158.7 1232.2,157.4 1235.2,156.2 1238.3,154.9 1241.4,153.7 1244.4,152.4 1247.5,151.2 1250.6,150.0 1253.6,148.7 1256.7,147.5 1259.8,146.3 1262.9,145.0 1266.0,143.8 1269.0,142.6 1272.1,141.4 1275.2,140.1 1278.3,138.9 1281.4,137.7 1284.4,136.5 1287.5,135.3 1290.6,134.1 1293.7,132.8 1296.8,131.6 1299.9,130.4 1302.9,129.2 1306.0,128.0 1309.1,126.8 1312.2,125.6 1315.3,124.3 1318.4,123.1 1321.4,121.9 1324.5,120.7 1327.6,119.5 1330.7,118.3 1333.8,117.1 1336.9,115.9 1339.9,114.7 1343.0,113.5 1346.1,112.2 1349.2,111.0 1352.3,109.8 1355.4,108.6 1358.5,107.4 1361.6,106.2 1364.6,105.0 1367.7,103.8 1370.8,102.6 1373.9,101.3 1377.0,100.1 1380.1,98.9 1383.2,97.7 1386.2,96.5 1389.3,95.2 1392.4,94.0 1395.5,92.8 1398.5,91.6 1401.6,90.4 1404.7,89.1 1407.7,87.9 1410.8,86.7 1413.9,85.4 1416.9,84.1 1420.0,82.8 1423.1,81.4 1426.1,80.0 1429.2,78.6 1432.2,77.2 1435.3,75.7 1438.3,74.3 1441.4,72.8 1444.5,71.3 1447.6,69.8 1450.7,68.3 1453.8,66.8 1457.0,65.3 1460.3,63.8 1463.6,62.2"/>
<path stroke="#00f" d="M337.0,275.1 338.7,278.0 340.4,280.9 342.3,283.7 344.3,286.4 346.4,289.0 348.5,291.5 350.8,294.0 353.2,296.3 355.7,298.6 358.2,300.7 360.9,302.6 363.7,304.5 366.5,306.4 369.3,308.2 372.1,309.9 375.0,311.7 377.8,313.4 380.7,315.1 383.6,316.7 386.5,318.4 389.4,320.0 392.3,321.7 395.2,323.3 398.1,325.0 401.0,326.6 403.9,328.2 406.8,329.9 409.8,331.5 412.7,333.1 415.6,334.7 418.5,336.3 421.5,337.9 424.4,339.5 427.3,341.1 430.2,342.7 433.1,344.3 436.1,345.9 439.0,347.5 441.9,349.1 444.8,350.7 447.7,352.3 450.7,353.9 453.6,355.6 456.5,357.2 459.4,358.8 462.3,360.4 465.3,362.0 468.2,363.6 471.1,365.2 474.0,366.8 476.9,368.5 479.9,370.1 482.8,371.7 485.7,373.3 488.6,374.9 491.5,376.5 494.5,378.1 497.4,379.8 500.3,381.4 503.2,383.0 506.1,384.6 509.1,386.2 512.0,387.9 514.9,389.5 517.8,391.1 520.7,392.7 523.7,394.4 526.6,396.0 529.5,397.6 532.4,399.3 535.3,400.9 538.3,402.5 541.2,404.1 544.1,405.8 547.0,407.4 550.0,409.0 552.9,410.6 555.8,412.3 558.7,413.9 561.6,415.5 564.6,417.1 567.5,418.7 570.4,420.4 573.3,422.0 576.3,423.6 579.2,425.2 582.1,426.8 585.0,428.4 588.0,430.1 590.9,431.7 593.8,433.3 596.7,434.9 599.7,436.5 602.6,438.1 605.5,439.7 608.4,441.3 611.4,443.0 614.3,444.6 617.2,446.2 620.1,447.8 623.1,449.4 626.0,451.0 628.9,452.6 631.8,454.2 634.8,455.8 637.7,457.4 640.6,458.9 643.6,460.5 646.5,462.1 649.4,463.7 652.3,465.3 655.3,466.9 658.2,468.5 661.1,470.1 664.1,471.7 667.0,473.3 669.9,474.9 672.8,476.5 675.8,478.1 678.7,479.7 681.6,481.3 684.5,482.9 687.5,484.5 690.4,486.1 693.3,487.7 696.3,489.3 699.2,490.9 702.1,492.4 705.1,494.0 708.0,495.6 711.0,497.2 713.9,498.7 716.9,500.3 719.8,501.9 722.8,503.4 725.7,505.0 728.7,506.6 731.6,508.1 734.6,509.7 737.5,511.2 740.5,512.8 743.4,514.3 746.4,515.9 749.3,517.4 752.3,519.0 755.2,520.5 758.2,522.1 761.1,523.6 764.1,525.2 767.0,526.8 770.0,528.3 772.9,529.9 775.9,531.4 778.8,533.0 781.8,534.5 784.7,536.1 787.7,537.6 790.6,539.2 793.6,540.8 796.6,542.3 799.5,543.9 802.5,545.4 805.4,547.0 808.4,548.5 811.3,550.0 814.3,551.6 817.3,553.1 820.2,554.7 823.2,556.2 826.2,557.7 829.1,559.2 832.1,560.7 835.1,562.3 838.1,563.8 841.1,565.2 844.1,566.7 847.1,568.2 850.1,569.7 853.1,571.1 856.1,572.6 859.1,574.0 862.1,575.5 865.1,576.9 868.1,578.3 871.2,579.7 874.2,581.0 877.3,582.3 880.3,583.6 883.4,584.9 886.5,586.2 889.6,587.4 892.7,588.7 895.8,589.8 898.9,591.0 902.0,592.2 905.2,593.3 908.3,594.4 911.5,595.4 914.7,596.5 917.8,597.5 921.0,598.6 924.2,599.6 927.3,600.6 930.5,601.6 933.7,602.6 936.9,603.6 940.1,604.6 943.3,605.5 946.5,606.5 949.7,607.5 952.9,608.4 956.1,609.4 959.3,610.3 962.5,611.2 965.7,612.1 968.9,613.1 972.1,614.0 975.3,614.9 978.6,615.8 981.8,616.7 985.0,617.6 988.2,618.5 991.4,619.5 994.6,620.4 997.8,621.4 1001.0,622.4 1004.2,623.4 1007.4,624.4 1010.5,625.4 1013.7,626.5 1016.9,627.5 1020.1,628.4 1023.3,629.4 1026.5,630.4 1029.7,631.4 1032.9,632.3 1036.1,633.3 1039.3,634.4 1042.4,635.4 1045.6,636.5 1048.7,637.5 1051.9,638.7 1055.0,639.8 1058.2,641.0 1061.3,642.1 1064.4,643.3 1067.5,644.6 1070.6,645.8 1073.7,647.1 1076.8,648.4 1079.9,649.8 1082.9,651.1 1086.0,652.5 1089.0,653.9 1092.1,655.3 1095.1,656.8 1098.1,658.4 1101.1,660.0 1104.0,661.6 1107.0,663.2 1110.0,664.8 1112.9,666.5 1115.9,668.2 1118.8,669.8 1121.8,671.5 1124.8,673.1 1127.8,674.8 1130.7,676.4 1133.7,678.1 1136.6,679.8 1139.5,681.6 1142.3,683.5 1145.1,685.4 1147.9,687.4 1150.6,689.4 1153.4,691.4 1156.1,693.5 1158.8,695.6 1161.5,697.6 1164.2,699.7 1166.9,701.7 1169.7,703.8 1172.4,705.8 1175.1,707.9 1177.8,710.0 1180.5,712.0 1183.1,714.1 1185.8,716.2 1188.4,718.4 1191.1,720.5 1193.7,722.7 1196.3,724.8 1198.8,727.0 1201.4,729.2 1204.0,731.4 1206.5,733.7 1209.1,735.9 1211.6,738.2 1214.1,740.5 1216.6,742.7 1219.1,745.0 1221.5,747.4 1224.0,749.7 1226.4,752.0 1228.8,754.4 1231.2,756.8 1233.6,759.1 1236.0,761.5 1238.3,764.0 1240.7,766.4 1243.0,768.8 1245.3,771.3 1247.6,773.8 1249.8,776.2 1252.1,778.7 1254.3,781.3 1256.5,783.8 1258.7,786.3 1260.8,788.9 1263.0,791.4 1265.1,794.0 1267.3,796.6 1269.4,799.2 1271.5,801.8 1273.6,804.4 1275.6,807.0 1277.7,809.7 1279.7,812.3 1281.7,815.0 1283.7,817.7 1285.7,820.4 1287.7,823.1 1289.6,825.8 1291.6,828.5 1293.5,831.2 1295.4,834.0 1297.3,836.7 1299.2,839.5 1301.1,842.3 1302.9,845.1 1304.8,847.9 1306.6,850.7 1308.4,853.5 1310.2,856.3 1311.9,859.2 1313.7,862.0 1315.4,864.9 1317.2,867.7 1318.9,870.6 1320.6,873.5 1322.3,876.4 1324.0,879.3 1325.7,882.2 1327.4,885.1 1329.0,888.0 1330.6,890.9 1332.3,893.9 1333.9,896.8 1335.5,899.8 1337.0,902.7 1338.6,905.7 1340.1,908.6 1341.6,911.6 1343.1,914.6 1344.6,917.6 1346.1,920.6 1347.5,923.6 1349.0,926.6 1350.4,929.6 1351.8,932.6 1353.3,935.6 1354.7,938.7 1356.1,941.7 1357.4,944.7 1358.8,947.8 1360.2,950.8 1361.5,953.9 1362.8,957.0 1364.2,960.0 1365.5,963.1 1366.8,966.1 1368.1,969.2 1369.4,972.3 1370.7,975.4 1372.0,978.5 1373.4,981.6 1374.7,984.7 1375.9,987.8 1377.2,990.9 1378.5,994.0 1379.8,997.1 1381.0,1000.2 1382.3,1003.4 1383.5,1006.5 1384.7,1009.6 1385.9,1012.7 1387.1,1015.8 1388.3,1019.0 1389.4,1022.1 1390.6,1025.2 1391.7,1028.4 1392.9,1031.5 1394.0,1034.6 1395.1,1037.8 1396.2,1040.9 1397.3,1044.0 1398.4,1047.2 1399.5,1050.3 1400.6,1053.5 1401.7,1056.6 1402.8,1059.8 1403.9,1062.9 1405.0,1066.1 1406.2,1069.2 1407.3,1072.4 1408.4,1075.5 1409.5,1078.7 1410.6,1081.8 1411.7,1085.0"/>
<path stroke="#f0f" d="M337.3,746.5 337.8,743.2 338.3,740.0 338.9,736.7 339.4,733.4 340.0,730.2 340.5,726.9 341.1,723.6 341.7,720.4 342.3,717.1 343.0,713.9 343.7,710.6 344.4,707.4 345.1,704.1 345.8,700.9 346.5,697.7 347.3,694.5 348.1,691.2 348.8,688.0 349.6,684.8 350.5,681.6 351.3,678.4 352.1,675.2 353.0,672.0 353.9,668.8 354.8,665.6 355.7,662.4 356.6,659.2 357.6,656.1 358.6,652.9 359.6,649.7 360.6,646.6 361.6,643.5 362.7,640.3 363.8,637.2 364.9,634.1 366.0,630.9 367.2,627.8 368.4,624.8 369.6,621.7 370.8,618.6 372.1,615.5 373.4,612.5 374.7,609.4 376.0,606.4 377.4,603.4 378.7,600.4 380.1,597.4 381.5,594.4 383.0,591.4 384.4,588.4 385.9,585.4 387.5,582.5 389.0,579.6 390.6,576.7 392.2,573.8 393.8,570.9 395.4,568.0 397.1,565.1 398.8,562.2 400.5,559.4 402.2,556.6 403.9,553.8 405.7,550.9 407.5,548.1 409.3,545.4 411.1,542.6 412.9,539.9 414.8,537.1 416.7,534.4 418.7,531.7 420.6,529.1 422.6,526.4 424.7,523.8 426.7,521.2 428.9,518.7 431.0,516.2 433.2,513.7 435.4,511.2 437.6,508.7 439.8,506.2 442.0,503.7 444.2,501.3 446.4,498.8 448.7,496.4 450.9,494.0 453.2,491.6 455.5,489.2 457.8,486.8 460.1,484.4 462.5,482.1 464.8,479.8 467.2,477.5 469.6,475.2 472.0,472.9 474.5,470.7 476.9,468.5 479.4,466.3 481.9,464.1 484.4,461.9 486.9,459.8 489.5,457.6 492.0,455.5 494.6,453.4 497.2,451.3 499.7,449.3 502.3,447.2 504.9,445.2 507.6,443.1 510.2,441.1 512.8,439.1 515.5,437.2 518.2,435.2 520.9,433.3 523.6,431.5 526.4,429.6 529.2,427.8 532.0,426.0 534.8,424.3 537.6,422.6 540.5,420.9 543.4,419.3 546.3,417.8 549.3,416.3 552.3,415.0 555.4,413.7 558.5,412.5 561.6,411.3 564.7,410.2 567.8,409.1 570.9,408.0 574.1,406.9 577.2,405.9 580.4,404.9 583.6,404.0 586.8,403.1 590.0,402.2 593.1,401.3 596.4,400.5 599.6,399.7 602.8,398.9 606.0,398.1 609.2,397.3 612.5,396.6 615.7,395.8 618.9,395.1 622.1,394.3 625.4,393.5 628.6,392.8 631.8,392.0 635.0,391.3 638.3,390.5 641.5,389.8 644.7,389.0 647.9,388.2 651.1,387.4 654.4,386.6 657.6,385.8 660.8,385.0 664.0,384.2 667.2,383.4 670.4,382.5 673.6,381.7 676.8,380.8 680.0,380.0 683.2,379.2 686.4,378.3 689.6,377.4 692.8,376.6 696.0,375.7 699.2,374.9 702.4,374.0 705.6,373.1 708.8,372.2 712.0,371.3 715.2,370.4 718.4,369.5 721.5,368.5 724.7,367.6 727.9,366.6 731.0,365.7 734.2,364.7 737.4,363.7 740.5,362.7 743.7,361.6 746.8,360.6 750.0,359.6 753.1,358.5 756.2,357.5 759.4,356.4 762.5,355.3 765.6,354.3 768.8,353.2 771.9,352.1 775.0,351.0 778.2,349.9 781.3,348.7 784.4,347.6 787.5,346.5 790.6,345.3 793.7,344.1 796.8,342.9 799.9,341.7 803.0,340.5 806.0,339.3 809.1,338.1 812.2,336.8 815.2,335.5 818.3,334.2 821.3,332.9 824.4,331.6 827.4,330.3 830.4,329.0 833.5,327.7 836.5,326.4 839.6,325.0 842.6,323.7 845.6,322.4 848.7,321.1 851.7,319.8 854.8,318.4 857.8,317.1 860.8,315.8 863.9,314.5 866.9,313.1 869.9,311.8 873.0,310.4 876.0,309.1 879.0,307.8 882.0,306.4 885.1,305.1 888.1,303.7 891.1,302.4 894.2,301.1 897.2,299.7 900.2,298.4 903.3,297.1 906.3,295.7 909.3,294.4 912.4,293.1 915.4,291.8 918.4,290.4 921.5,289.1 924.5,287.8 927.5,286.5 930.6,285.1 933.6,283.8 936.6,282.5 939.7,281.1 942.7,279.8 945.7,278.5 948.8,277.1 951.8,275.8 954.8,274.4 957.9,273.1 960.9,271.7 963.9,270.4 966.9,269.1 970.0,267.7 973.0,266.4 976.0,265.0 979.0,263.7 982.1,262.3 985.1,261.0 988.1,259.6 991.1,258.3 994.2,256.9 997.2,255.6 1000.2,254.2 1003.2,252.9 1006.3,251.5 1009.3,250.1 1012.3,248.8 1015.3,247.4 1018.3,246.1 1021.4,244.7 1024.4,243.3 1027.4,242.0 1030.4,240.6 1033.5,239.3 1036.5,237.9 1039.5,236.6 1042.5,235.3 1045.6,233.9 1048.6,232.6 1051.7,231.3 1054.7,230.0 1057.7,228.7 1060.8,227.4 1063.8,226.1 1066.9,224.8 1069.9,223.5 1073.0,222.2 1076.1,221.0 1079.1,219.7 1082.2,218.4 1085.2,217.1 1088.3,215.9 1091.4,214.6 1094.4,213.3 1097.5,212.1 1100.5,210.8 1103.6,209.5 1106.6,208.2 1109.7,207.0 1112.8,205.7 1115.8,204.4 1118.9,203.1 1121.9,201.9 1125.0,200.6 1128.0,199.3 1131.1,198.0 1134.2,196.8 1137.2,195.5 1140.3,194.2 1143.3,193.0 1146.4,191.7 1149.5,190.4 1152.5,189.2 1155.6,187.9 1158.6,186.6 1161.7,185.4 1164.8,184.1 1167.8,182.8 1170.9,181.6 1174.0,180.3 1177.0,179.0 1180.1,177.8 1183.1,176.5 1186.2,175.3 1189.3,174.0 1192.3,172.7 1195.4,171.5 1198.5,170.2 1201.5,169.0 1204.6,167.7 1207.7,166.4 1210.7,165.2 1213.8,163.9 1216.8,162.7 1219.9,161.4 1223.0,160.1 1226.0,158.9 1229.1,157.6 1232.2,156.4 1235.2,155.1 1238.3,153.8 1241.4,152.6 1244.4,151.4 1247.5,150.1 1250.6,148.9 1253.6,147.6 1256.7,146.4 1259.8,145.2 1262.9,143.9 1266.0,142.7 1269.0,141.5 1272.1,140.3 1275.2,139.1 1278.3,137.9 1281.4,136.6 1284.4,135.4 1287.5,134.2 1290.6,133.0 1293.7,131.8 1296.8,130.6 1299.9,129.4 1302.9,128.1 1306.0,126.9 1309.1,125.7 1312.2,124.5 1315.3,123.3 1318.4,122.1 1321.4,120.9 1324.5,119.7 1327.6,118.5 1330.7,117.3 1333.8,116.0 1336.9,114.8 1339.9,113.6 1343.0,112.4 1346.1,111.2 1349.2,110.0 1352.3,108.8 1355.4,107.6 1358.5,106.4 1361.6,105.2 1364.6,104.0 1367.7,102.8 1370.8,101.6 1373.9,100.4 1377.0,99.2 1380.1,98.0 1383.2,96.8 1386.2,95.6 1389.3,94.4 1392.4,93.1 1395.5,91.9 1398.6,90.7 1401.6,89.5 1404.7,88.2 1407.8,87.0 1410.9,85.8 1413.9,84.5 1417.0,83.2 1420.0,81.9 1423.0,80.6 1426.1,79.2 1429.1,77.8 1432.1,76.4 1435.1,75.0 1438.0,73.5 1441.0,72.1 1444.0,70.7 1447.0,69.2 1450.0,67.8 1453.0,66.4 1456.0,65.0 1459.0,63.6 1462.0,62.2"/>
<path stroke="#f0f" d="M337.0,276.6 338.7,279.5 340.4,282.3 342.3,285.1 344.3,287.8 346.4,290.4 348.5,292.9 350.8,295.4 353.2,297.7 355.7,300.0 358.2,302.1 360.9,304.0 363.7,305.9 366.5,307.8 369.3,309.6 372.1,311.4 375.0,313.1 377.8,314.8 380.7,316.5 383.6,318.2 386.5,319.8 389.4,321.5 392.3,323.1 395.2,324.8 398.1,326.4 401.0,328.1 403.9,329.7 406.8,331.3 409.8,333.0 412.7,334.6 415.6,336.2 418.5,337.8 421.5,339.4 424.4,341.0 427.3,342.7 430.2,344.3 433.1,345.9 436.1,347.5 439.0,349.1 441.9,350.7 444.8,352.4 447.7,354.0 450.7,355.6 453.6,357.2 456.5,358.8 459.4,360.4 462.3,362.1 465.3,363.7 468.2,365.3 471.1,366.9 474.0,368.5 476.9,370.1 479.9,371.8 482.8,373.4 485.7,375.0 488.6,376.6 491.5,378.2 494.5,379.8 497.4,381.5 500.3,383.1 503.2,384.7 506.1,386.3 509.1,387.9 512.0,389.5 514.9,391.2 517.8,392.8 520.7,394.4 523.7,396.0 526.6,397.6 529.5,399.2 532.4,400.9 535.3,402.5 538.3,404.1 541.2,405.7 544.1,407.3 547.0,408.9 550.0,410.6 552.9,412.2 555.8,413.8 558.7,415.4 561.6,417.0 564.6,418.6 567.5,420.2 570.4,421.8 573.3,423.4 576.3,425.1 579.2,426.7 582.1,428.3 585.0,429.9 588.0,431.5 590.9,433.1 593.8,434.7 596.7,436.3 599.7,437.9 602.6,439.5 605.5,441.1 608.4,442.8 611.4,444.4 614.3,446.0 617.2,447.6 620.1,449.2 623.1,450.8 626.0,452.4 628.9,454.0 631.8,455.6 634.8,457.2 637.7,458.8 640.6,460.4 643.6,462.0 646.5,463.6 649.4,465.2 652.3,466.8 655.3,468.4 658.2,470.0 661.1,471.6 664.1,473.2 667.0,474.8 669.9,476.4 672.8,478.0 675.8,479.6 678.7,481.2 681.6,482.9 684.5,484.5 687.5,486.1 690.4,487.7 693.3,489.2 696.3,490.8 699.2,492.4 702.1,494.0 705.1,495.6 708.0,497.2 711.0,498.7 713.9,500.3 716.9,501.9 719.8,503.4 722.8,505.0 725.7,506.6 728.7,508.1 731.6,509.7 734.6,511.3 737.5,512.8 740.5,514.4 743.4,515.9 746.4,517.5 749.3,519.0 752.3,520.6 755.2,522.2 758.2,523.7 761.1,525.3 764.1,526.8 767.0,528.4 770.0,529.9 772.9,531.5 775.9,533.1 778.8,534.6 781.8,536.2 784.7,537.7 787.7,539.3 790.6,540.9 793.6,542.4 796.6,544.0 799.5,545.5 802.5,547.1 805.4,548.6 808.4,550.2 811.3,551.7 814.3,553.3 817.3,554.8 820.2,556.3 823.2,557.9 826.2,559.4 829.1,560.9 832.1,562.4 835.1,563.9 838.1,565.4 841.1,566.9 844.1,568.4 847.1,569.8 850.1,571.3 853.1,572.8 856.1,574.2 859.1,575.7 862.1,577.1 865.1,578.6 868.1,580.0 871.2,581.4 874.2,582.7 877.3,584.0 880.3,585.4 883.4,586.7 886.5,588.0 889.6,589.2 892.7,590.5 895.8,591.7 898.9,592.9 902.0,594.0 905.2,595.1 908.3,596.2 911.5,597.3 914.7,598.4 917.8,599.4 921.0,600.5 924.2,601.5 927.3,602.5 930.5,603.5 933.7,604.5 936.9,605.5 940.1,606.5 943.3,607.5 946.5,608.5 949.7,609.4 952.9,610.4 956.1,611.3 959.3,612.2 962.5,613.2 965.7,614.1 968.9,615.0 972.1,615.9 975.3,616.8 978.6,617.7 981.8,618.6 985.0,619.5 988.2,620.4 991.4,621.3 994.6,622.3 997.8,623.2 1001.0,624.2 1004.2,625.2 1007.4,626.2 1010.5,627.2 1013.7,628.2 1016.9,629.2 1020.1,630.2 1023.3,631.2 1026.5,632.1 1029.7,633.1 1032.9,634.1 1036.1,635.1 1039.3,636.1 1042.4,637.1 1045.6,638.2 1048.7,639.2 1051.9,640.3 1055.0,641.5 1058.2,642.6 1061.3,643.8 1064.4,645.0 1067.5,646.2 1070.6,647.5 1073.7,648.7 1076.8,650.0 1079.9,651.3 1083.0,652.6 1086.0,654.0 1089.0,655.4 1092.0,656.8 1095.0,658.2 1098.0,659.8 1101.0,661.3 1103.9,662.9 1106.9,664.5 1109.8,666.1 1112.7,667.7 1115.6,669.3 1118.5,670.9 1121.5,672.6 1124.4,674.2 1127.3,675.8 1130.2,677.4 1133.1,679.1 1136.0,680.8 1138.8,682.6 1141.6,684.4 1144.3,686.3 1147.0,688.3 1149.7,690.2 1152.4,692.3 1155.0,694.3 1157.7,696.3 1160.3,698.4 1163.0,700.4 1165.7,702.4 1168.3,704.4 1171.0,706.4 1173.6,708.5 1176.3,710.5 1178.9,712.5 1181.6,714.6 1184.2,716.7 1186.8,718.8 1189.4,720.9 1191.9,723.0 1194.5,725.2 1197.0,727.3 1199.5,729.5 1202.1,731.7 1204.6,733.9 1207.1,736.1 1209.5,738.4 1212.0,740.6 1214.4,742.9 1216.9,745.2 1219.3,747.5 1221.7,749.8 1224.1,752.1 1226.5,754.5 1228.8,756.8 1231.2,759.2 1233.5,761.6 1235.8,764.0 1238.1,766.4 1240.4,768.9 1242.7,771.3 1244.9,773.8 1247.2,776.3 1249.4,778.7 1251.6,781.3 1253.8,783.8 1255.9,786.3 1258.1,788.8 1260.3,791.4 1262.4,794.0 1264.5,796.6 1266.6,799.2 1268.7,801.8 1270.8,804.4 1272.8,807.0 1274.9,809.7 1276.9,812.3 1278.9,815.0 1280.9,817.7 1282.9,820.4 1284.8,823.1 1286.8,825.8 1288.7,828.5 1290.6,831.2 1292.5,834.0 1294.4,836.7 1296.3,839.5 1298.1,842.3 1300.0,845.1 1301.8,847.9 1303.6,850.7 1305.4,853.5 1307.1,856.3 1308.9,859.2 1310.6,862.0 1312.4,864.9 1314.1,867.7 1315.8,870.6 1317.5,873.5 1319.1,876.4 1320.8,879.3 1322.5,882.2 1324.1,885.1 1325.7,888.0 1327.3,890.9 1328.9,893.9 1330.5,896.8 1332.1,899.8 1333.6,902.7 1335.2,905.7 1336.7,908.6 1338.2,911.6 1339.7,914.6 1341.2,917.6 1342.7,920.6 1344.2,923.6 1345.6,926.6 1347.0,929.6 1348.5,932.6 1349.9,935.6 1351.3,938.7 1352.7,941.7 1354.1,944.7 1355.4,947.8 1356.8,950.8 1358.1,953.9 1359.5,957.0 1360.8,960.0 1362.1,963.1 1363.4,966.1 1364.7,969.2 1366.0,972.3 1367.3,975.4 1368.5,978.5 1369.8,981.6 1371.0,984.7 1372.2,987.8 1373.4,990.9 1374.7,994.0 1375.9,997.1 1377.1,1000.2 1378.3,1003.4 1379.5,1006.5 1380.7,1009.6 1381.8,1012.7 1383.0,1015.8 1384.2,1019.0 1385.4,1022.1 1386.5,1025.2 1387.7,1028.4 1388.8,1031.5 1389.9,1034.6 1391.1,1037.8 1392.2,1040.9 1393.3,1044.0 1394.5,1047.2 1395.6,1050.3 1396.7,1053.5 1397.8,1056.6 1398.9,1059.8 1400.0,1062.9 1401.1,1066.1 1402.2,1069.2 1403.3,1072.4 1404.4,1075.5 1405.5,1078.7 1406.6,1081.8 1407.7,1085.0"/>
</g>
<g class="t" text-anchor="end">
<text transform="translate(306.5,84.4) scale(1,1.045)">4.4</text>
<text transform="translate(306.5,297.1) scale(1,1.045)">4.0</text>
<text transform="translate(306.5,509.9) scale(1,1.045)">3.6</text>
<text transform="translate(306.5,722.6) scale(1,1.045)">3.2</text>
<text transform="translate(306.5,935.4) scale(1,1.045)">2.8</text>
</g><g class="t" text-anchor="middle">
<text transform="translate(330.2,1151.6) scale(1,1.045)">0</text>
<text transform="translate(603.0,1151.6) scale(1,1.045)">40</text>
<text transform="translate(875.7,1151.6) scale(1,1.045)">80</text>
<text transform="translate(1148.5,1151.6) scale(1,1.045)">120</text>
<text transform="translate(1421.2,1151.6) scale(1,1.045)">160</text>
<text transform="translate(1694.0,1151.6) scale(1,1.045)">200</text>
</g>
<g clip-path="url(#cxa)"><text class="b" x="1009.8" y="1290.1" font-size="92.5" text-anchor="middle">Capacity [mAh/g]</text></g>
<text class="b" transform="translate(111.8,821.0) rotate(-90)" font-size="88.3">Voltage [V]</text>
<text x="366.0" y="160.5" font-size="80">(a)</text>
<g stroke-width="7.7" stroke-linecap="round" fill="none">
<path stroke="#000" d="M383.8,731.8H514.4"/>
<path stroke="#f00" d="M383.8,822.8H514.4"/>
<path stroke="#00f" d="M383.8,913.8H514.4"/>
<path stroke="#f0f" d="M383.8,1004.8H514.4"/>
</g><g font-size="73.5">
<text x="533.5" y="752.0">1st Cycle</text>
<text x="533.0" y="843.0">5th Cycle</text>
<text x="532.7" y="934.0">25th Cycle</text>
<text x="533.0" y="1025.0">50th Cycle</text>
</g>
</g>
<g id="plot-b">
<g clip-path="url(#cb)">
<g fill="#000"><circle cx="342.5" cy="1727.0" r="13.9"/><circle cx="369.8" cy="1729.2" r="13.9"/><circle cx="397.1" cy="1729.4" r="13.9"/><circle cx="424.3" cy="1730.3" r="13.9"/><circle cx="451.6" cy="1735.3" r="13.9"/><circle cx="478.9" cy="1733.1" r="13.9"/><circle cx="506.2" cy="1732.7" r="13.9"/><circle cx="533.5" cy="1733.8" r="13.9"/><circle cx="560.8" cy="1735.3" r="13.9"/><circle cx="588.1" cy="1736.0" r="13.9"/><circle cx="615.3" cy="1736.4" r="13.9"/><circle cx="642.6" cy="1735.3" r="13.9"/><circle cx="669.9" cy="1732.3" r="13.9"/><circle cx="697.2" cy="1732.7" r="13.9"/><circle cx="724.5" cy="1734.6" r="13.9"/><circle cx="751.8" cy="1732.9" r="13.9"/><circle cx="779.1" cy="1733.8" r="13.9"/><circle cx="806.3" cy="1735.7" r="13.9"/><circle cx="833.6" cy="1734.4" r="13.9"/><circle cx="860.9" cy="1736.0" r="13.9"/><circle cx="888.2" cy="1736.4" r="13.9"/><circle cx="915.5" cy="1735.3" r="13.9"/><circle cx="942.8" cy="1737.3" r="13.9"/><circle cx="970.1" cy="1736.4" r="13.9"/><circle cx="997.3" cy="1736.7" r="13.9"/><circle cx="1024.6" cy="1737.9" r="13.9"/><circle cx="1051.9" cy="1737.9" r="13.9"/><circle cx="1079.2" cy="1739.7" r="13.9"/><circle cx="1106.5" cy="1736.8" r="13.9"/><circle cx="1133.8" cy="1736.8" r="13.9"/><circle cx="1161.1" cy="1738.8" r="13.9"/><circle cx="1188.4" cy="1736.6" r="13.9"/><circle cx="1215.6" cy="1738.1" r="13.9"/><circle cx="1242.9" cy="1738.4" r="13.9"/><circle cx="1270.2" cy="1738.8" r="13.9"/><circle cx="1297.5" cy="1738.4" r="13.9"/><circle cx="1324.8" cy="1739.9" r="13.9"/><circle cx="1352.1" cy="1739.9" r="13.9"/><circle cx="1379.4" cy="1738.8" r="13.9"/><circle cx="1406.6" cy="1738.1" r="13.9"/><circle cx="1433.9" cy="1737.9" r="13.9"/><circle cx="1461.2" cy="1738.6" r="13.9"/><circle cx="1488.5" cy="1739.2" r="13.9"/><circle cx="1515.8" cy="1739.9" r="13.9"/><circle cx="1543.1" cy="1739.2" r="13.9"/><circle cx="1570.4" cy="1739.7" r="13.9"/><circle cx="1597.6" cy="1739.7" r="13.9"/><circle cx="1624.9" cy="1738.6" r="13.9"/><circle cx="1652.2" cy="1739.2" r="13.9"/><circle cx="1679.5" cy="1739.7" r="13.9"/></g>
<g fill="#00f"><circle cx="342.5" cy="1562.5" r="13.9"/><circle cx="369.8" cy="1560.5" r="13.9"/><circle cx="397.1" cy="1561.8" r="13.9"/><circle cx="424.3" cy="1565.3" r="13.9"/><circle cx="451.6" cy="1562.7" r="13.9"/><circle cx="478.9" cy="1566.6" r="13.9"/><circle cx="506.2" cy="1568.2" r="13.9"/><circle cx="533.5" cy="1566.0" r="13.9"/><circle cx="560.8" cy="1564.0" r="13.9"/><circle cx="588.1" cy="1560.8" r="13.9"/><circle cx="615.3" cy="1560.1" r="13.9"/><circle cx="642.6" cy="1563.8" r="13.9"/><circle cx="669.9" cy="1559.7" r="13.9"/><circle cx="697.2" cy="1561.2" r="13.9"/><circle cx="724.5" cy="1564.7" r="13.9"/><circle cx="751.8" cy="1567.5" r="13.9"/><circle cx="779.1" cy="1563.6" r="13.9"/><circle cx="806.3" cy="1565.5" r="13.9"/><circle cx="833.6" cy="1564.7" r="13.9"/><circle cx="860.9" cy="1566.6" r="13.9"/><circle cx="888.2" cy="1561.8" r="13.9"/><circle cx="915.5" cy="1566.0" r="13.9"/><circle cx="942.8" cy="1566.2" r="13.9"/><circle cx="970.1" cy="1561.6" r="13.9"/><circle cx="997.3" cy="1563.9" r="13.9"/><circle cx="1024.6" cy="1562.3" r="13.9"/><circle cx="1051.9" cy="1563.1" r="13.9"/><circle cx="1079.2" cy="1565.8" r="13.9"/><circle cx="1106.5" cy="1563.6" r="13.9"/><circle cx="1133.8" cy="1565.3" r="13.9"/><circle cx="1161.1" cy="1565.3" r="13.9"/><circle cx="1188.4" cy="1564.2" r="13.9"/><circle cx="1215.6" cy="1560.8" r="13.9"/><circle cx="1242.9" cy="1561.0" r="13.9"/><circle cx="1270.2" cy="1561.8" r="13.9"/><circle cx="1297.5" cy="1561.2" r="13.9"/><circle cx="1324.8" cy="1564.7" r="13.9"/><circle cx="1352.1" cy="1562.3" r="13.9"/><circle cx="1379.4" cy="1567.7" r="13.9"/><circle cx="1406.6" cy="1564.9" r="13.9"/><circle cx="1433.9" cy="1562.3" r="13.9"/><circle cx="1461.2" cy="1561.2" r="13.9"/><circle cx="1488.5" cy="1564.9" r="13.9"/><circle cx="1515.8" cy="1565.8" r="13.9"/><circle cx="1543.1" cy="1567.9" r="13.9"/><circle cx="1570.4" cy="1567.5" r="13.9"/><circle cx="1597.6" cy="1564.9" r="13.9"/><circle cx="1624.9" cy="1566.6" r="13.9"/><circle cx="1652.2" cy="1566.2" r="13.9"/><circle cx="1679.5" cy="1566.0" r="13.9"/></g>
</g>
<g fill="none" stroke="#000" stroke-width="5.6" stroke-linecap="round">
<path d="M1679.5,1391.8H315.2V2401.7H1679.5M315.2,2401.7h19.5M315.2,2317.5h10.0M315.2,2233.4h19.5M315.2,2149.2h10.0M315.2,2065.1h19.5M315.2,1980.9h10.0M315.2,1896.8h19.5M315.2,1812.6h10.0M315.2,1728.4h19.5M315.2,1644.3h10.0M315.2,1560.1h19.5M315.2,1476.0h10.0M315.2,1391.8h19.5M451.6,2401.7v-10.0M588.1,2401.7v-19.5M724.5,2401.7v-10.0M860.9,2401.7v-19.5M997.3,2401.7v-10.0M1133.8,2401.7v-19.5M1270.2,2401.7v-10.0M1406.6,2401.7v-19.5M1543.1,2401.7v-10.0" stroke-linejoin="miter"/>
</g>
<g fill="none" stroke="#00f" stroke-width="5.6" stroke-linecap="round">
<path d="M1679.5,1391.8V2401.7M1679.5,2401.7h-19.5M1679.5,2317.5h-10.0M1679.5,2233.4h-19.5M1679.5,2149.2h-10.0M1679.5,2065.1h-19.5M1679.5,1980.9h-10.0M1679.5,1896.8h-19.5M1679.5,1812.6h-10.0M1679.5,1728.4h-19.5M1679.5,1644.3h-10.0M1679.5,1560.1h-19.5M1679.5,1476.0h-10.0M1679.5,1391.8h-19.5"/>
</g>
<g class="t" text-anchor="end">
<text transform="translate(293.8,2424.6) scale(1,1.045)">0</text>
<text transform="translate(293.8,2256.1) scale(1,1.045)">40</text>
<text transform="translate(293.8,2087.5) scale(1,1.045)">80</text>
<text transform="translate(293.8,1919.0) scale(1,1.045)">120</text>
<text transform="translate(293.8,1750.5) scale(1,1.045)">160</text>
<text transform="translate(293.8,1581.9) scale(1,1.045)">200</text>
<text transform="translate(293.8,1413.4) scale(1,1.045)">240</text>
</g><g class="t" fill="#00f">
<text transform="translate(1700.7,2424.6) scale(1,1.045)">0</text>
<text transform="translate(1700.7,2256.1) scale(1,1.045)">20</text>
<text transform="translate(1700.7,2087.5) scale(1,1.045)">40</text>
<text transform="translate(1700.7,1919.0) scale(1,1.045)">60</text>
<text transform="translate(1700.7,1750.5) scale(1,1.045)">80</text>
<text transform="translate(1700.7,1581.9) scale(1,1.045)">100</text>
<text transform="translate(1700.7,1413.4) scale(1,1.045)">120</text>
</g><g class="t" text-anchor="middle">
<text transform="translate(315.2,2482.6) scale(1,1.045)">0</text>
<text transform="translate(588.1,2482.6) scale(1,1.045)">10</text>
<text transform="translate(860.9,2482.6) scale(1,1.045)">20</text>
<text transform="translate(1133.8,2482.6) scale(1,1.045)">30</text>
<text transform="translate(1406.6,2482.6) scale(1,1.045)">40</text>
<text transform="translate(1679.5,2482.6) scale(1,1.045)">50</text>
</g>
<g clip-path="url(#cxb)"><text class="b" x="996.2" y="2614.4" font-size="91.5" text-anchor="middle">Cycle number [N]</text></g>
<text class="b" transform="translate(100.7,2444.4) rotate(-90)" font-size="89.7">Discharge capacity [mAhg<tspan font-size="45" dx="0" dy="-36.5">-1</tspan><tspan font-size="72.5" dx="-1.5" dy="36.5">]</tspan></text>
<text class="b" fill="#00f" transform="translate(1912.6,2395.0) rotate(-90)" font-size="89.8">Coulombic efficiency (%)</text>
<text x="354.5" y="1492.5" font-size="80">(b)</text>
<path stroke="#000" stroke-width="1.6" stroke-linecap="round" fill="none" d="M375.4,2216.3H439.3M475.9,2216.3H540.0"/>
<circle cx="457.6" cy="2216.3" r="14.0" fill="#000"/>
<text x="557.2" y="2240.7" font-size="73.1">Discharge capacity</text>
<path stroke="#00f" stroke-width="2.9" stroke-linecap="round" fill="none" d="M375.4,2307.2H439.3M475.9,2307.2H540.0"/>
<circle cx="457.6" cy="2307.2" r="14.0" fill="#00f"/>
<text x="557.2" y="2331.6" font-size="73.1">Coulombic efficiency</text>
</g>
</svg></body></html>
